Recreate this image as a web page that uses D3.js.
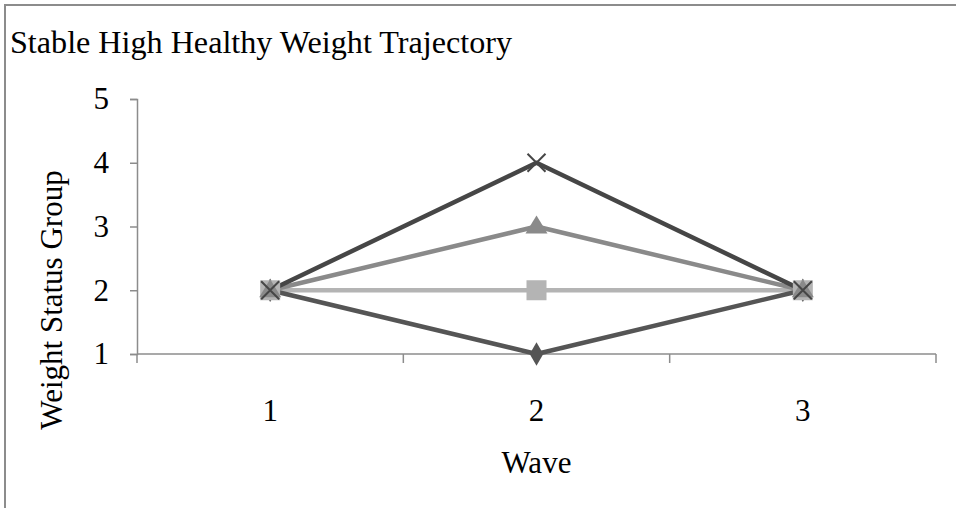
<!DOCTYPE html>
<html>
<head>
<meta charset="utf-8">
<script src="https://cdn.jsdelivr.net/npm/d3@7"></script>
<style>
  html, body { margin: 0; padding: 0; background: #fff; }
  svg { display: block; }
  text { font-family: "Liberation Serif", "Times New Roman", serif; fill: #000; }
</style>
</head>
<body>
<svg id="chart" width="956" height="508"></svg>
<script>
// Data
const waves = ["1", "2", "3"];
const yTicks = [1, 2, 3, 4, 5];
const seriesNames = ["S1", "S2", "S3", "S4"];
const seriesValues = [
  [2, 1, 2],
  [2, 2, 2],
  [2, 3, 2],
  [2, 4, 2]
];
const seriesColors = ["#555555", "#b4b4b4", "#8a8a8a", "#464646"];
const seriesMarkers = ["diamond", "square", "triangle", "cross"];

const svg = d3.select("#chart");
const W = 956, H = 508;

// Frame (top and left edges)
svg.append("line").attr("x1", 4).attr("x2", W).attr("y1", 5).attr("y2", 5)
  .attr("stroke", "#8c8c8c").attr("stroke-width", 2);
svg.append("line").attr("x1", 5).attr("x2", 5).attr("y1", 4).attr("y2", H)
  .attr("stroke", "#8c8c8c").attr("stroke-width", 2);

const plot = { left: 137, right: 936, top: 99, bottom: 354 };

const x = d3.scaleBand().domain(waves).range([plot.left, plot.right]);
const y = d3.scaleLinear().domain([1, 5]).range([plot.bottom, plot.top]);

// Title
svg.append("text")
  .attr("x", 10).attr("y", 53)
  .attr("font-size", 31)
  .attr("textLength", 502).attr("lengthAdjust", "spacingAndGlyphs")
  .text("Stable High Healthy Weight Trajectory");

// Y axis
const yAxis = svg.append("g")
  .attr("transform", `translate(${plot.left},0)`)
  .call(d3.axisLeft(y).tickValues(yTicks).tickSize(7).tickPadding(21).tickFormat(d3.format("d")));
yAxis.select(".domain").attr("stroke", "#8c8c8c").attr("stroke-width", 1.5);
yAxis.selectAll(".tick line").attr("stroke", "#8c8c8c").attr("stroke-width", 1.5);
yAxis.selectAll(".tick text").attr("font-size", 31).attr("font-family", "Liberation Serif").attr("fill", "#000");

// X axis (category boundaries as ticks)
const xAxisG = svg.append("g").attr("transform", `translate(0,${plot.bottom})`);
xAxisG.append("line").attr("x1", plot.left).attr("x2", plot.right)
  .attr("stroke", "#8c8c8c").attr("stroke-width", 1.5);
const boundaries = waves.map(w => x(w)).concat([x(waves[waves.length - 1]) + x.bandwidth()]);
xAxisG.selectAll("line.tk").data(boundaries).join("line").attr("class", "tk")
  .attr("x1", d => d).attr("x2", d => d).attr("y1", 0).attr("y2", 9)
  .attr("stroke", "#8c8c8c").attr("stroke-width", 1.5);
xAxisG.selectAll("text").data(waves).join("text")
  .attr("x", d => x(d) + x.bandwidth() / 2).attr("y", 67)
  .attr("text-anchor", "middle").attr("font-size", 31)
  .text(d => d);

// Axis titles
svg.append("text")
  .attr("x", x(waves[1]) + x.bandwidth() / 2).attr("y", 473)
  .attr("text-anchor", "middle").attr("font-size", 31)
  .text("Wave");
svg.append("text")
  .attr("transform", `translate(62,300) rotate(-90)`)
  .attr("text-anchor", "middle").attr("font-size", 31)
  .text("Weight Status Group");

// Lines
const cx = (i) => x(waves[i]) + x.bandwidth() / 2;
const line = d3.line().x((d, i) => cx(i)).y(d => y(d));

const order = [1, 2, 0, 3];
order.forEach(s => {
  svg.append("path").datum(seriesValues[s])
    .attr("d", line).attr("fill", "none")
    .attr("stroke", seriesColors[s]).attr("stroke-width", 4.5)
    .attr("stroke-linejoin", "round");
});

// Markers
function drawMarker(g, type, px, py, color) {
  if (type === "diamond") {
    g.append("path").attr("d", d3.symbol(d3.symbolDiamond, 160)()).attr("transform", `translate(${px},${py})`)
      .attr("fill", color);
  } else if (type === "square") {
    g.append("rect").attr("x", px - 10).attr("y", py - 10).attr("width", 20).attr("height", 20)
      .attr("fill", color);
  } else if (type === "triangle") {
    g.append("path").attr("d", `M${px},${py - 11}L${px + 11},${py + 7}L${px - 11},${py + 7}Z`)
      .attr("fill", color);
  } else if (type === "cross") {
    g.append("path").attr("d", `M${px - 9},${py - 9}L${px + 9},${py + 9}M${px + 9},${py - 9}L${px - 9},${py + 9}`)
      .attr("stroke", color).attr("stroke-width", 2).attr("fill", "none");
  }
}
const markers = svg.append("g");
seriesValues.forEach((vals, s) => {
  vals.forEach((v, i) => drawMarker(markers, seriesMarkers[s], cx(i), y(v), seriesColors[s]));
});
</script>
</body>
</html>
